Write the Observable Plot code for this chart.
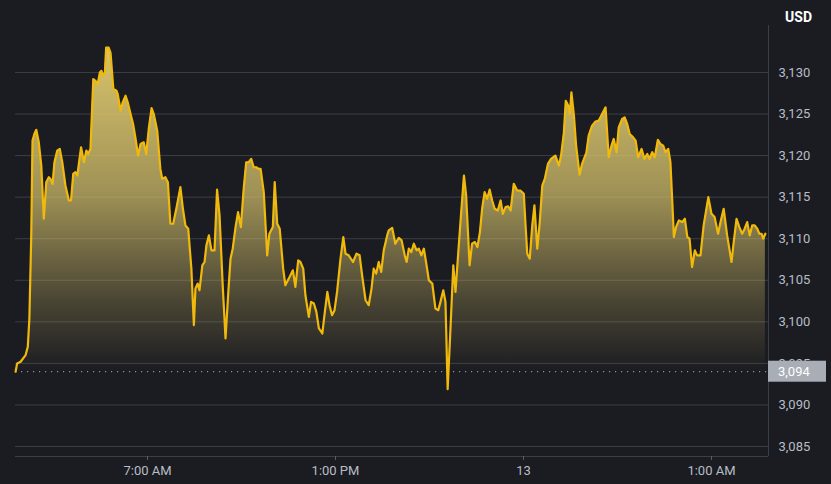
<!DOCTYPE html>
<html>
<head>
<meta charset="utf-8">
<script src="https://cdn.jsdelivr.net/npm/d3@7"></script>
<script src="https://cdn.jsdelivr.net/npm/@observablehq/plot@0.6"></script>
<style>
html, body { margin: 0; padding: 0; background: #1b1c21; }
#chart { width: 831px; height: 484px; }
</style>
</head>
<body>
<div id="chart"></div>
<script>
// time in hours since 00:00 of day 12 (local chart time)
const hours = [
  2.79, 2.84, 2.95, 3.11, 3.18, 3.23, 3.29, 3.33, 3.39, 3.45, 3.53, 3.61, 3.69, 3.77, 3.85, 3.90, 3.97, 4.03, 4.12, 4.20, 4.28, 4.38, 4.49, 4.56, 4.63, 4.70, 4.76, 4.83, 4.88, 4.97, 5.05, 5.11, 5.18, 5.27, 5.34, 5.41, 5.48, 5.53, 5.59, 5.64, 5.68, 5.76, 5.82, 5.91, 6.01, 6.05, 6.14, 6.21, 6.30, 6.37, 6.46, 6.54, 6.62,
  6.70, 6.78, 6.88, 6.96, 7.04, 7.13, 7.20, 7.31, 7.41, 7.47, 7.57, 7.65, 7.73, 7.82, 7.92, 8.05, 8.13, 8.21, 8.30, 8.40, 8.48, 8.53, 8.60, 8.66, 8.75, 8.82, 8.88, 8.96, 9.04, 9.14, 9.22, 9.30, 9.40, 9.49, 9.58, 9.65, 9.72, 9.81, 9.89, 9.98, 10.07, 10.15, 10.23, 10.31, 10.39, 10.47, 10.55,
  10.61, 10.71, 10.82, 10.89, 11.00, 11.06, 11.14, 11.22, 11.33, 11.40, 11.51, 11.64, 11.72, 11.81, 11.88, 11.97, 12.04, 12.15, 12.22, 12.31, 12.39, 12.47, 12.58, 12.66, 12.74, 12.81, 12.89, 12.97, 13.05, 13.16, 13.25, 13.32, 13.42, 13.56, 13.67, 13.77, 13.85, 13.96, 14.06, 14.15, 14.22, 14.30, 14.38, 14.46, 14.54, 14.65,
  14.70, 14.81, 14.91, 15.02, 15.11, 15.21, 15.27, 15.34, 15.42, 15.50, 15.59, 15.66, 15.74, 15.82, 15.89, 15.98, 16.09, 16.19, 16.28, 16.35, 16.44, 16.51, 16.58, 16.67, 16.76, 16.83, 16.92, 17.02, 17.10, 17.17, 17.28, 17.36, 17.45, 17.53, 17.61, 17.68, 17.76, 17.84, 17.92, 18.00, 18.08, 18.18, 18.27, 18.34, 18.43, 18.51, 18.59,
  18.69, 18.80, 18.90, 19.01, 19.06, 19.12, 19.20, 19.28, 19.35, 19.44, 19.52, 19.60, 19.68, 19.78, 19.88, 20.02, 20.13, 20.20, 20.29, 20.35, 20.43, 20.48, 20.53, 20.61, 20.68, 20.79, 20.87, 21.01, 21.08, 21.19, 21.30, 21.40, 21.51, 21.62, 21.72, 21.81, 21.88, 21.97, 22.04, 22.15, 22.23, 22.31, 22.39, 22.50, 22.58,
  22.66, 22.77, 22.86, 22.95, 23.02, 23.11, 23.19, 23.29, 23.37, 23.46, 23.53, 23.62, 23.69, 23.75, 23.80, 23.87, 23.96, 24.07, 24.15, 24.23, 24.30, 24.38, 24.47, 24.54, 24.65, 24.75, 24.90, 25.00, 25.10, 25.21, 25.30, 25.39, 25.50, 25.64, 25.71, 25.80, 25.89, 25.98, 26.06, 26.14, 26.22, 26.30, 26.38, 26.46, 26.53, 26.60, 26.65, 26.72
];
const prices = [
  3094.0, 3095.0, 3095.2, 3096.0, 3097.0, 3100.4, 3110.4, 3121.8, 3122.6, 3123.1, 3121.6, 3118.8, 3112.4, 3116.8, 3117.4, 3117.2, 3116.6, 3119.2, 3120.6, 3120.8, 3119.2, 3116.4, 3114.6, 3114.6, 3117.8, 3118.0, 3117.6, 3119.6, 3121.0, 3119.2, 3120.6, 3120.2, 3120.8, 3129.2, 3129.0, 3128.6, 3130.0, 3130.2, 3129.6, 3130.0, 3133.0, 3133.0, 3132.4, 3128.0, 3127.8, 3127.4, 3125.4, 3126.4, 3127.2, 3126.4, 3125.0, 3123.8, 3122.0,
  3120.0, 3121.4, 3121.6, 3120.2, 3123.2, 3125.7, 3125.0, 3123.0, 3118.4, 3117.2, 3117.4, 3116.8, 3111.8, 3111.8, 3113.6, 3116.2, 3113.6, 3111.6, 3111.2, 3106.4, 3099.6, 3104.0, 3104.6, 3103.8, 3106.8, 3107.2, 3109.2, 3110.4, 3108.6, 3108.6, 3115.9, 3112.8, 3104.4, 3098.0, 3103.6, 3107.6, 3108.8, 3111.4, 3113.2, 3111.4, 3116.0, 3119.2, 3119.2, 3119.6, 3118.6, 3118.6, 3118.4,
  3118.4, 3115.6, 3108.0, 3110.6, 3111.4, 3116.8, 3111.8, 3111.2, 3106.4, 3104.4, 3105.2, 3106.2, 3104.2, 3107.4, 3107.2, 3106.4, 3103.2, 3100.6, 3102.4, 3102.2, 3101.2, 3099.2, 3098.6, 3101.2, 3103.6, 3102.0, 3100.8, 3101.4, 3103.6, 3107.6, 3110.2, 3108.2, 3108.0, 3107.2, 3108.2, 3108.0, 3105.6, 3102.6, 3102.0, 3104.0, 3106.4, 3105.8, 3107.2, 3106.0, 3108.6, 3110.4,
  3111.0, 3111.3, 3109.4, 3110.1, 3109.8, 3108.0, 3107.2, 3108.8, 3108.4, 3109.4, 3108.6, 3108.8, 3108.0, 3108.8, 3107.2, 3105.0, 3104.6, 3101.6, 3101.4, 3102.4, 3103.8, 3102.4, 3091.9, 3099.2, 3106.8, 3103.6, 3108.4, 3113.6, 3117.6, 3115.2, 3106.8, 3109.4, 3109.6, 3109.0, 3110.8, 3113.6, 3115.6, 3114.8, 3115.9, 3114.6, 3113.6, 3113.4, 3114.6, 3113.0, 3113.8, 3113.9, 3113.4,
  3116.6, 3115.8, 3115.8, 3115.4, 3112.0, 3108.2, 3107.6, 3111.6, 3114.0, 3108.8, 3112.0, 3116.4, 3117.2, 3119.0, 3119.6, 3120.0, 3118.8, 3120.0, 3122.8, 3126.6, 3126.0, 3125.0, 3127.6, 3124.8, 3121.2, 3117.7, 3119.0, 3120.4, 3122.4, 3123.6, 3124.1, 3124.2, 3125.0, 3125.8, 3119.8, 3121.2, 3122.0, 3120.4, 3123.4, 3124.4, 3124.6, 3123.8, 3122.6, 3122.2, 3121.8,
  3119.8, 3120.8, 3119.6, 3120.2, 3119.6, 3120.4, 3119.8, 3121.9, 3121.4, 3121.2, 3120.4, 3120.8, 3119.2, 3114.4, 3110.2, 3111.4, 3112.2, 3112.0, 3112.4, 3110.2, 3110.0, 3106.6, 3108.6, 3108.0, 3108.0, 3111.6, 3115.0, 3113.0, 3112.6, 3110.6, 3112.2, 3113.6, 3110.4, 3107.2, 3109.6, 3112.4, 3111.4, 3110.6, 3111.2, 3112.0, 3110.4, 3111.6, 3111.6, 3111.2, 3110.6, 3110.6, 3110.0, 3110.6
];
const priceTicks = [3085, 3090, 3095, 3100, 3105, 3110, 3115, 3120, 3125, 3130];
const timeTicks = [7, 13, 19, 25];
const timeTickLabels = ["7:00 AM", "1:00 PM", "13", "1:00 AM"];
const refPrice = 3094;
const currency = "USD";

const n = Math.min(hours.length, prices.length);
const data = d3.range(n).map(i => ({h: hours[i], p: prices[i]}));
const xDomain = [2.787, 26.82];
const yDomain = [3083.8, 3135.65];
const fmt = d3.format(",");
const gridColor = "#3b3e46";
const labelColor = "#b7bdc6";

const chart = Plot.plot({
  width: 831,
  height: 484,
  marginLeft: 15,
  marginRight: 63,
  marginTop: 25,
  marginBottom: 28,
  style: {background: "#1b1c21", color: labelColor, fontFamily: "Roboto, 'Liberation Sans', sans-serif", fontSize: "13px"},
  x: {domain: xDomain, label: null},
  y: {domain: yDomain, label: null},
  marks: [
    Plot.gridY(priceTicks, {stroke: gridColor, strokeOpacity: 1}),
    Plot.ruleY([refPrice], {stroke: "#8d9099", strokeDasharray: "1.2 4.8", strokeWidth: 1.2}),
    Plot.areaY(data, {x: "h", y1: yDomain[0], y2: "p", fill: "url(#areaGrad)"}),
    Plot.lineY(data, {x: "h", y: "p", stroke: "#f0b90b", strokeWidth: 2.2, strokeLinejoin: "round"}),
    Plot.ruleX([xDomain[1]], {stroke: gridColor}),
    Plot.ruleY([yDomain[0]], {stroke: gridColor}),
    Plot.axisY(priceTicks, {anchor: "right", tickSize: 0, tickPadding: 10, tickFormat: fmt, textAnchor: "start", fill: labelColor, label: null}),
    Plot.axisX(timeTicks, {anchor: "bottom", tickSize: 4, tickPadding: 5, stroke: "#5a5e66", fill: labelColor, label: null,
      tickFormat: d => timeTickLabels[timeTicks.indexOf(d)]}),
    Plot.text([currency], {frameAnchor: "top-right", dx: 30, dy: -13, text: d => d, fill: "#ffffff", fontWeight: "bold", fontSize: 14, textAnchor: "middle"})
  ]
});

const svg = chart.tagName.toLowerCase() === "svg" ? chart : chart.querySelector("svg");
const ys = chart.scale("y");
const xs = chart.scale("x");
const yTop = ys.apply(d3.max(prices));
const yBot = ys.apply(refPrice);

const defs = d3.select(svg).insert("defs", ":first-child");
const grad = defs.append("linearGradient")
  .attr("id", "areaGrad")
  .attr("gradientUnits", "userSpaceOnUse")
  .attr("x1", 0).attr("x2", 0)
  .attr("y1", yTop).attr("y2", yBot);
[[0, 1], [0.45, 0.7], [0.78, 0.25], [1, 0]].forEach(([o, a]) => {
  grad.append("stop").attr("offset", o).attr("stop-color", "#d8c46c").attr("stop-opacity", a);
});

// reference price tag on the right axis
const xRight = xs.apply(xDomain[1]);
const yRef = ys.apply(refPrice);
const tag = d3.select(svg).append("g");
tag.append("rect")
  .attr("x", xRight).attr("y", yRef - 10.5)
  .attr("width", 58).attr("height", 21)
  .attr("fill", "#a9adb6");
tag.append("text")
  .attr("x", xRight + 10).attr("y", yRef)
  .attr("dy", "0.35em")
  .attr("text-anchor", "start")
  .attr("fill", "#ffffff")
  .attr("font-size", 13)
  .text(fmt(refPrice));

document.getElementById("chart").appendChild(chart);
</script>
</body>
</html>
